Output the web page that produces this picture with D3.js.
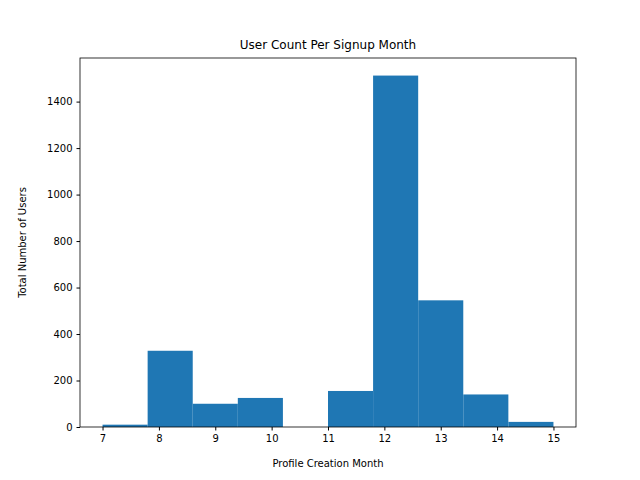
<!DOCTYPE html>
<html><head><meta charset="utf-8">
<script src="https://cdn.jsdelivr.net/npm/d3@7"></script>
<style>body{margin:0;background:#fff}text{font-family:"DejaVu Sans",sans-serif}</style>
</head><body><svg id="c" width="640" height="480"></svg>
<script>
// histogram bins: edges 7..15, 10 bins
const binEdges = d3.range(11).map(i => 7 + i * 0.8);
const counts = [10, 328, 100, 125, 0, 155, 1512, 545, 140, 22];
const xTicks = [7, 8, 9, 10, 11, 12, 13, 14, 15];
const yTicks = [0, 200, 400, 600, 800, 1000, 1200, 1400];

const m = {l: 80, r: 576, t: 58, b: 427};
const svg = d3.select("#c");
const x = d3.scaleLinear().domain([6.6, 15.4]).range([m.l, m.r]);
const y = d3.scaleLinear().domain([0, 1512 * 1.05]).range([m.b, m.t]);

svg.selectAll("rect.bar").data(counts).join("rect")
  .attr("x", (d, i) => x(binEdges[i]))
  .attr("width", (d, i) => x(binEdges[i + 1]) - x(binEdges[i]))
  .attr("y", d => y(d)).attr("height", d => y(0) - y(d))
  .attr("fill", "#1f77b4");

const xa = svg.append("g").attr("transform", `translate(0,${m.b})`)
  .call(d3.axisBottom(x).tickValues(xTicks).tickSize(3.5).tickPadding(4).tickFormat(d3.format("d")));
const ya = svg.append("g").attr("transform", `translate(${m.l},0)`)
  .call(d3.axisLeft(y).tickValues(yTicks).tickSize(3.5).tickPadding(4).tickFormat(d3.format("d")));
[xa, ya].forEach(a => { a.select(".domain").remove(); a.selectAll("text").attr("font-size", 10).attr("fill", "#000"); a.selectAll("line").attr("stroke", "#000"); });

svg.append("rect").attr("x", m.l).attr("y", m.t).attr("width", m.r - m.l).attr("height", m.b - m.t)
  .attr("fill", "none").attr("stroke", "#000").attr("stroke-width", 0.8);

svg.append("text").attr("x", (m.l + m.r) / 2).attr("y", 49).attr("text-anchor", "middle")
  .attr("font-size", 12).text("User Count Per Signup Month");
svg.append("text").attr("x", (m.l + m.r) / 2).attr("y", 467).attr("text-anchor", "middle")
  .attr("font-size", 10).text("Profile Creation Month");
svg.append("text").attr("transform", `translate(26,${(m.t + m.b) / 2}) rotate(-90)`).attr("text-anchor", "middle")
  .attr("font-size", 10).text("Total Number of Users");
</script></body></html>
